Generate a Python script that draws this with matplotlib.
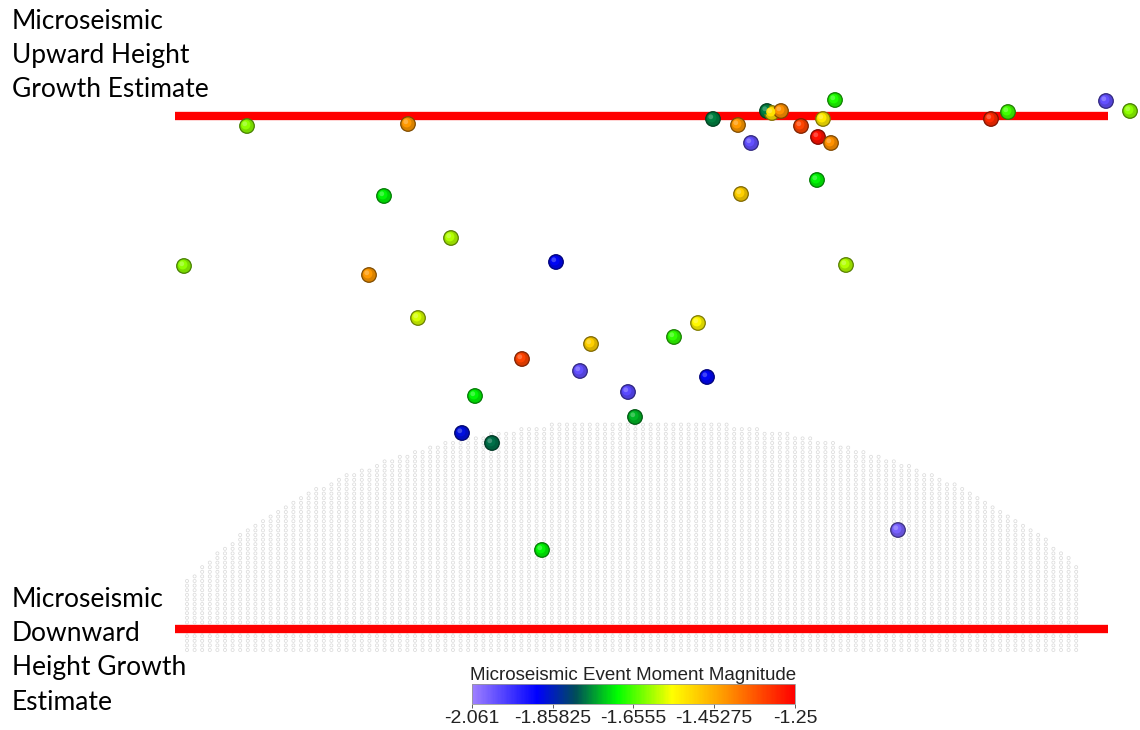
import matplotlib.pyplot as plt
import matplotlib.transforms as mtransforms
import numpy as np
from matplotlib.colors import LinearSegmentedColormap, Normalize

# Event positions (along-strike, depth in image units) and moment magnitude
event_x = [247, 408, 713, 738, 767, 772, 781, 801, 818, 823, 831, 835, 751,
           991, 1008, 1106, 1130, 741, 817, 384, 451, 184, 556, 369, 846,
           418, 698, 674, 591, 522, 580, 628, 707, 475, 635, 462, 492, 542, 898]
event_y = [126, 124, 119, 125, 111, 113, 111, 126, 137, 119, 143, 100, 143,
           119, 112, 101, 111, 194, 180, 196, 238, 266, 262, 275, 265,
           318, 323, 337, 344, 359, 371, 392, 377, 396, 417, 433, 443, 550, 530]
event_mag = [-1.62, -1.43, -1.77, -1.43, -1.77, -1.52, -1.42, -1.33, -1.27,
             -1.53, -1.42, -1.68, -2.00, -1.30, -1.66, -2.00, -1.62, -1.50,
             -1.70, -1.70, -1.60, -1.62, -1.89, -1.43, -1.60, -1.58, -1.55,
             -1.67, -1.50, -1.33, -2.00, -1.99, -1.89, -1.70, -1.74, -1.88,
             -1.78, -1.70, -2.02]

# Height growth estimates
upper_estimate = 116
lower_estimate = 629
line_x = [175, 1108]

# Colour bar
mag_min, mag_max = -2.061, -1.25
mag_ticks = [-2.061, -1.85825, -1.6555, -1.45275, -1.25]
mag_ticklabels = ['-2.061', '-1.85825', '-1.6555', '-1.45275', '-1.25']

cmap = LinearSegmentedColormap.from_list('ms', [
    (0.0, (0.62, 0.5, 1.0)),
    (0.2, (0.0, 0.0, 1.0)),
    (0.32, (0.0, 0.3, 0.35)),
    (0.45, (0.0, 1.0, 0.0)),
    (0.62, (1.0, 1.0, 0.0)),
    (0.78, (1.0, 0.6, 0.0)),
    (1.0, (1.0, 0.0, 0.0)),
])
norm = Normalize(mag_min, mag_max)

fig = plt.figure(figsize=(11.4, 7.3), dpi=100)
ax = fig.add_axes([0, 0, 1, 1])
ax.set_xlim(0, 1140)
ax.set_ylim(730, 0)
ax.axis('off')

# Fracture mesh (dome-shaped grid of nodes)
mesh_cx, mesh_a, mesh_base, mesh_h = 640, 520, 736, 316
cols = np.arange(187, 1079, 7.6)
gx, gy = [], []
for c in cols:
    top = mesh_base - mesh_h * np.sqrt(max(0, 1 - ((c - mesh_cx) / mesh_a) ** 2))
    rows = np.arange(650, top, -4.6)
    gx.extend([c] * len(rows))
    gy.extend(rows)
ax.scatter(gx, gy, s=5, facecolors='none', edgecolors='#d8d8d8', linewidths=0.5, zorder=1)

# Estimate lines
ax.plot(line_x, [upper_estimate] * 2, color='#ff0000', lw=6, solid_capstyle='butt', zorder=3)
ax.plot(line_x, [lower_estimate] * 2, color='#ff0000', lw=6, solid_capstyle='butt', zorder=3)

# Events, with a little shading so they read as spheres
cols_ev = cmap(norm(np.array(event_mag)))
base = cols_ev.copy()
base[:, :3] *= 0.85
edge = cols_ev.copy()
edge[:, :3] *= 0.5
ax.scatter(event_x, event_y, s=110, c=base, edgecolors=edge, linewidths=0.9, zorder=4)
hl = mtransforms.offset_copy(ax.transData, fig=fig, x=-1.2, y=1.2, units='dots')
ax.scatter(event_x, event_y, s=45, c=cols_ev, edgecolors='none', zorder=5, transform=hl)
ax.scatter(event_x, event_y, s=12, c='white', alpha=0.25, edgecolors='none', zorder=6,
           transform=mtransforms.offset_copy(ax.transData, fig=fig, x=-2.2, y=2.2, units='dots'))

# Labels
txt = dict(family=['Lato', 'DejaVu Sans'], fontsize=19, color='black', va='top', ha='left',
           linespacing=1.46)
ax.text(12, 9, 'Microseismic\nUpward Height\nGrowth Estimate', **txt)
ax.text(12, 587, 'Microseismic\nDownward\nHeight Growth\nEstimate', **txt)

# Colour bar
cax = fig.add_axes([472 / 1140, 1 - 704 / 730, 323 / 1140, 20 / 730])
sm = plt.cm.ScalarMappable(norm=norm, cmap=cmap)
cb = fig.colorbar(sm, cax=cax, orientation='horizontal', ticks=mag_ticks)
cb.ax.set_xticklabels(mag_ticklabels)
cb.ax.tick_params(labelsize=14, length=3, width=0.6, colors='#444444', labelcolor='#222222', pad=1)
for lab in cb.ax.get_xticklabels():
    lab.set_family(['Liberation Sans', 'DejaVu Sans'])
cb.outline.set_edgecolor('#999999')
cb.outline.set_linewidth(0.6)
cb.ax.set_title('Microseismic Event Moment Magnitude', fontsize=13.5, color='#222222',
                family=['Liberation Sans', 'DejaVu Sans'], pad=2)

plt.savefig('out.png', dpi=100)
